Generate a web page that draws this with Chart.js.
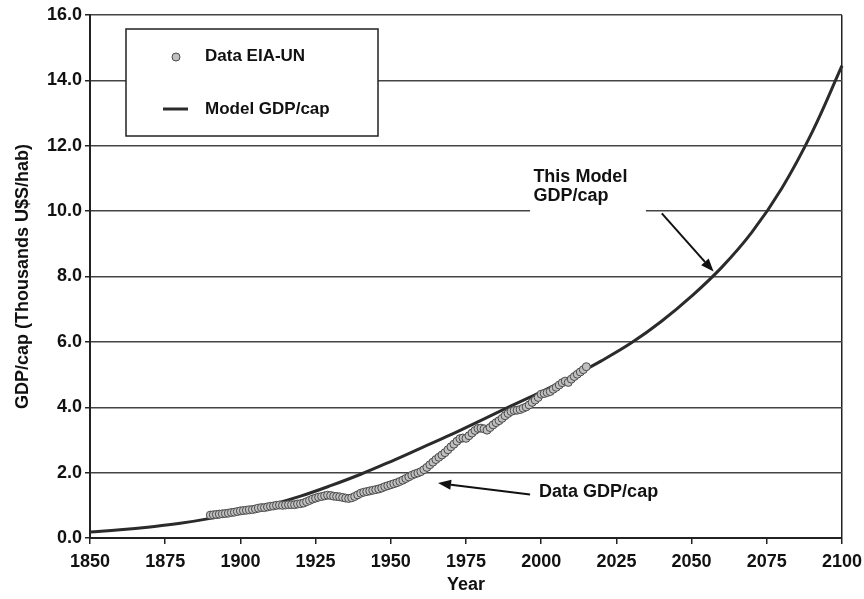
<!DOCTYPE html>
<html>
<head>
<meta charset="utf-8">
<script src="https://cdn.jsdelivr.net/npm/chart.js@4.4.1/dist/chart.umd.min.js"></script>
<style>
  html, body { margin: 0; padding: 0; background: #fff; }
  #chart { display: block; }
</style>
</head>
<body>
<canvas id="chart" width="864" height="599"></canvas>
<script>
// Data EIA-UN, yearly 1890-2015 (thousands U$S/hab)
const dataStartYear = 1890;
const dataValues = [
  0.70, 0.71, 0.72, 0.73, 0.74, 0.75, 0.76, 0.78, 0.79, 0.81,
  0.83, 0.84, 0.85, 0.86, 0.87, 0.89, 0.91, 0.93, 0.93, 0.95,
  0.97, 0.98, 1.00, 1.01, 1.00, 1.01, 1.02, 1.02, 1.02, 1.04,
  1.05, 1.07, 1.11, 1.15, 1.19, 1.22, 1.25, 1.27, 1.29, 1.31,
  1.30, 1.28, 1.27, 1.26, 1.24, 1.22, 1.21, 1.23, 1.27, 1.32,
  1.37, 1.40, 1.42, 1.44, 1.46, 1.48, 1.50, 1.53, 1.57, 1.60,
  1.63, 1.66, 1.69, 1.73, 1.77, 1.82, 1.87, 1.92, 1.96, 1.99,
  2.03, 2.09, 2.16, 2.24, 2.32, 2.40, 2.47, 2.54, 2.61, 2.70,
  2.79, 2.87, 2.96, 3.04, 3.06, 3.05, 3.13, 3.21, 3.29, 3.35,
  3.36, 3.34, 3.30, 3.38, 3.46, 3.53, 3.59, 3.66, 3.74, 3.81,
  3.87, 3.90, 3.91, 3.93, 3.97, 4.01, 4.07, 4.15, 4.22, 4.30,
  4.40, 4.42, 4.45, 4.48, 4.55, 4.61, 4.68, 4.75, 4.80, 4.76,
  4.86, 4.94, 5.01, 5.08, 5.15, 5.24
];

// Model GDP/cap curve
const modelYears = [1850, 1860, 1870, 1880, 1890, 1900, 1910, 1920, 1930, 1940,
  1950, 1960, 1970, 1980, 1990, 2000, 2010, 2020, 2030, 2040,
  2050, 2060, 2070, 2080, 2090, 2100];
const modelValues = [0.18, 0.25, 0.34, 0.45, 0.60, 0.79, 1.01, 1.28, 1.60, 1.95,
  2.34, 2.75, 3.16, 3.60, 4.04, 4.47, 4.93, 5.42, 5.97, 6.63,
  7.40, 8.28, 9.35, 10.70, 12.40, 14.45];

const xTicks = [1850, 1875, 1900, 1925, 1950, 1975, 2000, 2025, 2050, 2075, 2100];
const yTicks = [0, 2, 4, 6, 8, 10, 12, 14, 16];

const FONT = "'Liberation Sans', Arial, Helvetica, sans-serif";

const dataPoints = dataValues.map((v, i) => ({ x: dataStartYear + i, y: v }));
const modelPoints = modelYears.map((yr, i) => ({ x: yr, y: modelValues[i] }));

function arrow(ctx, x1, y1, x2, y2) {
  const ang = Math.atan2(y2 - y1, x2 - x1);
  const len = 13, half = 5;
  const bx = x2 - len * Math.cos(ang), by = y2 - len * Math.sin(ang);
  ctx.beginPath();
  ctx.moveTo(x1, y1);
  ctx.lineTo(bx, by);
  ctx.stroke();
  ctx.beginPath();
  ctx.moveTo(x2, y2);
  ctx.lineTo(bx + half * Math.sin(ang), by - half * Math.cos(ang));
  ctx.lineTo(bx - half * Math.sin(ang), by + half * Math.cos(ang));
  ctx.closePath();
  ctx.fill();
}

// legend box and the two call-outs
const overlay = {
  id: 'overlay',
  afterDraw(chart) {
    const { ctx, chartArea: a } = chart;
    const sx = chart.scales.x, sy = chart.scales.y;
    const px = v => sx.getPixelForValue(v);
    const py = v => sy.getPixelForValue(v);
    ctx.save();

    // legend
    const lx = a.left + 36, ly = a.top + 14, lw = 252, lh = 107;
    ctx.fillStyle = '#fff';
    ctx.fillRect(lx, ly, lw, lh);
    ctx.strokeStyle = '#222';
    ctx.lineWidth = 1.5;
    ctx.strokeRect(lx, ly, lw, lh);
    ctx.beginPath();
    ctx.arc(lx + 50, ly + 28, 4, 0, Math.PI * 2);
    ctx.fillStyle = '#c0c0c0';
    ctx.fill();
    ctx.lineWidth = 1;
    ctx.strokeStyle = '#4a4a4a';
    ctx.stroke();
    ctx.beginPath();
    ctx.moveTo(lx + 37, ly + 80);
    ctx.lineTo(lx + 62, ly + 80);
    ctx.lineWidth = 3;
    ctx.strokeStyle = '#2b2b2b';
    ctx.stroke();
    ctx.fillStyle = '#111';
    ctx.font = 'bold 17px ' + FONT;
    ctx.textBaseline = 'middle';
    ctx.textAlign = 'left';
    ctx.fillText('Data EIA-UN', lx + 79, ly + 27);
    ctx.fillText('Model GDP/cap', lx + 79, ly + 80);

    // "This Model GDP/cap"
    ctx.fillStyle = '#fff';
    ctx.fillRect(px(1996.3), py(10.3) - 25, px(2034.8) - px(1996.3), 52);
    ctx.fillStyle = '#111';
    ctx.font = 'bold 18px ' + FONT;
    ctx.textBaseline = 'alphabetic';
    ctx.fillText('This Model', px(1997.4), py(10.9));
    ctx.fillText('GDP/cap', px(1997.4), py(10.31));
    ctx.strokeStyle = '#111';
    ctx.fillStyle = '#111';
    ctx.lineWidth = 2;
    arrow(ctx, px(2040.1), py(9.93), px(2057.3), py(8.15));

    // "Data GDP/cap"
    ctx.fillText('Data GDP/cap', px(1999.3), py(1.26));
    arrow(ctx, px(1996.3), py(1.33), px(1965.7), py(1.68));

    ctx.restore();
  }
};

new Chart(document.getElementById('chart'), {
  type: 'scatter',
  data: {
    datasets: [
      {
        label: 'Data EIA-UN',
        data: dataPoints,
        showLine: false,
        pointRadius: 4,
        pointBackgroundColor: '#c0c0c0',
        pointBorderColor: '#4a4a4a',
        pointBorderWidth: 1
      },
      {
        type: 'line',
        label: 'Model GDP/cap',
        data: modelPoints,
        pointRadius: 0,
        borderColor: '#2b2b2b',
        borderWidth: 3,
        fill: false,
        tension: 0.4,
        clip: 4
      }
    ]
  },
  options: {
    responsive: false,
    animation: false,
    layout: { padding: { left: 0, right: 22, top: 15, bottom: 0 } },
    plugins: { legend: { display: false }, tooltip: { enabled: false } },
    scales: {
      x: {
        type: 'linear',
        min: 1850,
        max: 2100,
        afterBuildTicks: s => { s.ticks = xTicks.map(v => ({ value: v })); },
        afterFit: s => { s.height = 61; s.paddingRight = 0; s.paddingLeft = 0; },
        ticks: {
          color: '#111',
          padding: 7,
          maxRotation: 0,
          font: { family: FONT, size: 18, weight: 'bold' },
          callback: v => String(v)
        },
        grid: {
          drawOnChartArea: true,
          color: c => (c.tick && c.tick.value === 2100) ? '#222' : 'rgba(0,0,0,0)',
          tickColor: '#222',
          tickLength: 6,
          lineWidth: 1.5
        },
        border: { display: true, color: '#222', width: 2 },
        title: {
          display: true,
          text: 'Year',
          color: '#111',
          font: { family: FONT, size: 18, weight: 'bold' },
          padding: { top: 0, bottom: 3 }
        }
      },
      y: {
        min: 0,
        max: 16,
        afterBuildTicks: s => { s.ticks = yTicks.map(v => ({ value: v })); },
        afterFit: s => { s.width = 90; s.paddingTop = 0; s.paddingBottom = 0; },
        ticks: {
          color: '#111',
          padding: 3,
          font: { family: FONT, size: 18, weight: 'bold' },
          callback: v => Number(v).toFixed(1)
        },
        grid: {
          color: '#444',
          tickColor: '#222',
          tickLength: 5,
          lineWidth: 1.5
        },
        border: { display: true, color: '#222', width: 2 },
        title: {
          display: true,
          text: 'GDP/cap (Thousands U$S/hab)',
          color: '#111',
          font: { family: FONT, size: 18, weight: 'bold' },
          padding: { top: 12, bottom: 0 }
        }
      }
    }
  },
  plugins: [overlay]
});
</script>
</body>
</html>
